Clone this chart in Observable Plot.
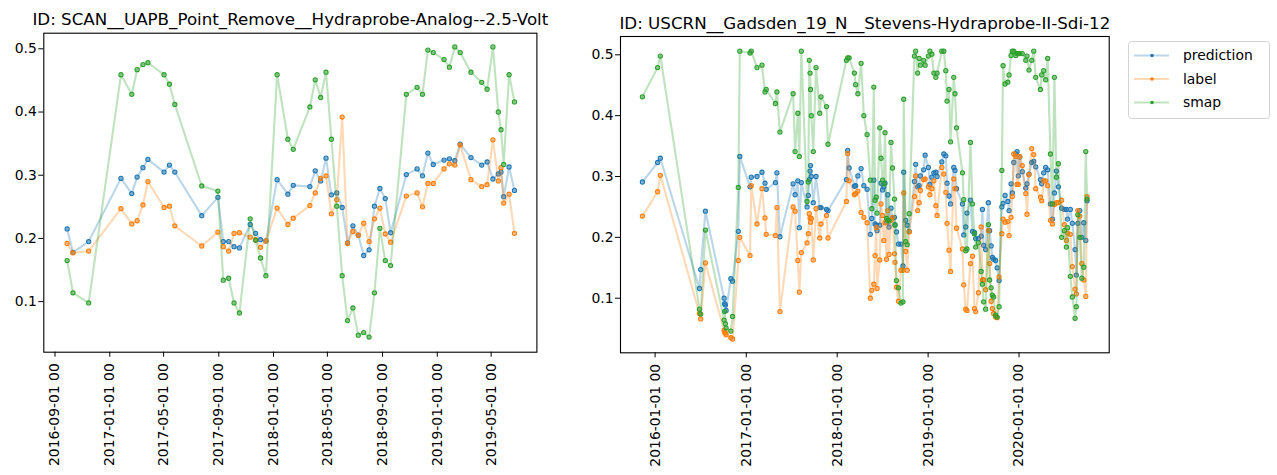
<!DOCTYPE html>
<html>
<head>
<meta charset="utf-8">
<script src="https://cdn.jsdelivr.net/npm/d3@7"></script>
<script src="https://cdn.jsdelivr.net/npm/@observablehq/plot@0.6"></script>
<style>
  html, body { margin: 0; padding: 0; background: #fff; }
  #root { position: relative; width: 1277px; height: 475px; overflow: hidden; font-family: "DejaVu Sans", sans-serif; }
  #root > * { position: absolute; }
</style>
</head>
<body>
<div id="root"></div>
<script>
// ---------- data ----------
const seriesNames = ["prediction", "label", "smap"];
const leftTitle = "ID: SCAN__UAPB_Point_Remove__Hydraprobe-Analog--2.5-Volt";
const rightTitle = "ID: USCRN__Gadsden_19_N__Stevens-Hydraprobe-II-Sdi-12";

const leftXTicks = ["2016-09-01","2017-01-01","2017-05-01","2017-09-01","2018-01-01","2018-05-01","2018-09-01","2019-01-01","2019-05-01"];
const rightXTicks = ["2016-01-01","2017-01-01","2018-01-01","2019-01-01","2020-01-01"];
const yTicks = [0.1, 0.2, 0.3, 0.4, 0.5];

const leftDates = [
  "2016-09-28","2016-10-11","2016-11-15","2017-01-26","2017-02-19","2017-03-03","2017-03-16","2017-03-27",
  "2017-05-02","2017-05-14","2017-05-26","2017-07-25","2017-08-30","2017-09-11","2017-09-23","2017-10-05",
  "2017-10-17","2017-11-10","2017-11-22","2017-12-03","2017-12-15","2018-01-09","2018-02-02","2018-02-14",
  "2018-03-23","2018-04-04","2018-04-16","2018-04-28","2018-05-10","2018-05-22","2018-06-03","2018-06-15",
  "2018-06-27","2018-07-09","2018-07-21","2018-08-02","2018-08-14","2018-08-26","2018-09-07","2018-09-19",
  "2018-10-24","2018-11-17","2018-11-29","2018-12-11","2018-12-23","2019-01-16","2019-01-28","2019-02-09",
  "2019-02-21","2019-03-17","2019-04-10","2019-04-22","2019-05-05","2019-05-17","2019-05-23","2019-05-29",
  "2019-06-10","2019-06-22"
];
const leftPrediction = [
  0.215,0.178,0.195,0.295,0.271,0.297,0.312,0.325,
  0.305,0.316,0.305,0.236,0.265,0.195,0.195,0.187,
  0.185,0.222,0.208,0.198,0.196,0.293,0.270,0.284,
  0.282,0.307,0.291,0.327,0.269,0.272,0.249,0.193,
  0.220,0.205,0.173,0.182,0.251,0.279,0.263,0.209,
  0.301,0.310,0.299,0.335,0.317,0.324,0.326,0.323,
  0.349,0.328,0.316,0.321,0.294,0.302,0.305,0.266,
  0.313,0.276
];
const leftLabel = [
  0.192,0.177,0.180,0.247,0.223,0.228,0.253,0.290,
  0.249,0.251,0.220,0.188,0.210,0.187,0.180,0.208,
  0.209,0.202,0.198,0.186,0.196,0.248,0.222,0.232,
  0.252,0.272,0.295,0.299,0.239,0.261,0.392,0.192,
  0.211,0.205,0.224,0.195,0.231,0.248,0.207,0.194,
  0.267,0.272,0.250,0.287,0.287,0.310,0.318,0.316,
  0.348,0.293,0.282,0.285,0.356,0.291,0.312,0.256,
  0.270,0.208
];
const leftSmap = [
  0.165,0.114,0.098,0.459,0.428,0.467,0.475,0.478,
  0.459,0.444,0.412,0.283,0.275,0.134,0.137,0.098,
  0.082,0.231,0.197,0.169,0.141,0.459,0.357,0.341,
  0.408,0.451,0.423,0.463,0.357,0.251,0.141,0.070,
  0.090,0.047,0.051,0.044,0.114,0.216,0.165,0.157,
  0.428,0.439,0.428,0.498,0.494,0.483,0.471,0.503,
  0.494,0.463,0.447,0.436,0.503,0.400,0.372,0.317,
  0.459,0.416
];

const rightDates = [
  "2015-11-11","2016-01-11","2016-01-22","2016-06-27","2016-07-02","2016-07-21","2016-10-04","2016-10-06",
  "2016-10-09","2016-10-12","2016-10-31","2016-11-07","2016-11-30","2016-12-06","2017-01-16","2017-01-21",
  "2017-02-13","2017-03-05","2017-03-17","2017-03-22","2017-04-28","2017-05-04","2017-05-16","2017-07-08",
  "2017-07-16","2017-07-27","2017-08-02","2017-08-10","2017-09-02","2017-09-07","2017-09-11","2017-09-14",
  "2017-09-16","2017-09-19","2017-09-27","2017-10-08","2017-10-23","2017-10-28","2017-11-19","2017-11-25",
  "2018-02-07","2018-02-12","2018-02-18","2018-03-11","2018-03-16","2018-03-25","2018-04-07","2018-04-18",
  "2018-05-01","2018-05-14","2018-05-20","2018-05-28","2018-06-02","2018-06-07","2018-06-10","2018-06-21",
  "2018-06-26","2018-07-02","2018-07-07","2018-07-12","2018-07-18","2018-07-23","2018-07-28","2018-08-05",
  "2018-08-11","2018-08-19","2018-08-21","2018-08-27","2018-09-04","2018-09-14","2018-09-22","2018-09-25",
  "2018-10-03","2018-10-09","2018-10-17","2018-11-07","2018-11-12","2018-11-20","2018-11-26","2018-12-01",
  "2018-12-14","2018-12-20","2019-01-02","2019-01-08","2019-01-16","2019-01-24","2019-02-01","2019-02-06",
  "2019-02-25","2019-03-05","2019-03-13","2019-03-18","2019-03-26","2019-04-01","2019-04-14","2019-04-19",
  "2019-04-25",
  "2019-05-19","2019-05-24","2019-06-01","2019-06-06","2019-06-20","2019-06-28","2019-07-06","2019-07-11",
  "2019-07-22","2019-08-02","2019-08-07","2019-08-12","2019-08-20","2019-08-31","2019-09-05","2019-09-11",
  "2019-09-16","2019-09-21","2019-09-29","2019-10-05","2019-10-13","2019-10-24","2019-10-29","2019-11-06",
  "2019-11-17","2019-11-22","2019-11-30","2019-12-05","2019-12-11","2019-12-19","2019-12-24","2019-12-29",
  "2020-01-04","2020-01-14","2020-01-28","2020-02-02","2020-02-10","2020-02-21","2020-02-29","2020-03-08",
  "2020-03-27","2020-04-01","2020-04-09","2020-04-17","2020-04-25","2020-05-06","2020-05-14","2020-05-22",
  "2020-05-30","2020-06-07","2020-06-20","2020-07-01","2020-07-09","2020-07-14","2020-07-25","2020-08-02",
  "2020-08-13","2020-08-18","2020-08-24","2020-09-01","2020-09-09","2020-09-17","2020-09-25","2020-09-30"
];
const rightPrediction = [
  0.291,0.323,0.330,0.116,0.147,0.243,0.100,0.091,
  0.089,0.080,0.132,0.128,0.210,0.333,0.283,0.299,
  0.300,0.307,0.289,0.279,0.290,0.306,0.201,0.288,
  0.270,0.293,0.216,0.290,0.250,0.269,0.295,0.309,
  0.318,0.300,0.257,0.300,0.249,0.249,0.246,0.244,
  0.295,0.343,0.314,0.284,0.285,0.301,0.313,0.285,
  0.279,0.205,0.231,0.294,0.222,0.220,0.211,0.220,
  0.289,0.278,0.283,0.289,0.225,0.270,0.217,0.248,
  0.232,0.233,0.221,0.209,0.189,0.189,0.153,0.307,
  0.228,0.220,0.210,0.292,0.320,0.283,0.285,0.301,
  0.311,0.335,0.315,0.287,0.299,0.306,0.307,0.300,
  0.324,0.337,0.334,0.289,0.268,0.255,0.315,0.310,
  0.280,
  0.255,0.204,0.217,0.240,0.261,0.210,0.208,0.198,
  0.198,0.202,0.246,0.187,0.180,0.257,0.211,0.186,
  0.167,0.164,0.162,0.150,0.129,0.250,0.256,0.269,
  0.259,0.244,0.288,0.273,0.323,0.337,0.341,0.301,
  0.332,0.308,0.281,0.288,0.304,0.323,0.325,0.316,
  0.295,0.288,0.306,0.315,0.311,0.255,0.230,0.273,
  0.309,0.283,0.248,0.246,0.246,0.230,0.246,0.223,
  0.180,0.138,0.223,0.244,0.200,0.224,0.195,0.260
];
const rightLabel = [
  0.235,0.275,0.302,0.075,0.066,0.158,0.047,0.044,
  0.043,0.040,0.035,0.033,0.162,0.200,0.170,0.285,
  0.222,0.280,0.232,0.205,0.203,0.249,0.078,0.250,
  0.243,0.162,0.110,0.175,0.191,0.206,0.239,0.232,
  0.225,0.231,0.163,0.247,0.199,0.222,0.236,0.199,
  0.259,0.338,0.293,0.270,0.272,0.276,0.241,0.233,
  0.224,0.100,0.113,0.123,0.170,0.216,0.116,0.163,
  0.255,0.236,0.195,0.224,0.164,0.244,0.172,0.228,
  0.233,0.173,0.159,0.118,0.095,0.146,0.146,0.273,
  0.177,0.146,0.209,0.267,0.301,0.244,0.257,0.277,
  0.295,0.296,0.283,0.270,0.280,0.293,0.252,0.236,
  0.315,0.304,0.274,0.223,0.179,0.144,0.296,0.280,
  0.215,
  0.181,0.122,0.082,0.080,0.157,0.169,0.083,0.078,
  0.109,0.217,0.130,0.130,0.114,0.211,0.157,0.095,
  0.083,0.075,0.069,0.068,0.135,0.206,0.230,0.225,
  0.226,0.203,0.233,0.267,0.337,0.333,0.287,0.287,
  0.333,0.318,0.272,0.238,0.303,0.346,0.336,0.280,
  0.266,0.260,0.293,0.293,0.285,0.228,0.222,0.254,
  0.257,0.257,0.261,0.221,0.195,0.207,0.205,0.152,
  0.115,0.107,0.244,0.235,0.157,0.130,0.103,0.267
];
const rightSmap = [
  0.431,0.479,0.498,0.082,0.074,0.212,0.064,0.078,
  0.058,0.051,0.046,0.070,0.282,0.506,0.503,0.506,
  0.479,0.483,0.439,0.443,0.420,0.439,0.373,0.436,
  0.341,0.404,0.333,0.506,0.259,0.291,0.491,0.470,
  0.443,0.400,0.341,0.479,0.404,0.431,0.415,0.353,
  0.491,0.495,0.495,0.470,0.451,0.436,0.486,0.400,
  0.369,0.294,0.247,0.447,0.261,0.266,0.240,0.380,
  0.330,0.294,0.288,0.372,0.231,0.228,0.227,0.356,
  0.314,0.263,0.220,0.129,0.117,0.092,0.094,0.427,
  0.193,0.188,0.239,0.498,0.506,0.470,0.494,0.483,
  0.491,0.483,0.498,0.506,0.501,0.470,0.463,0.470,
  0.506,0.506,0.474,0.424,0.443,0.357,0.463,0.436,
  0.380,
  0.306,0.262,0.178,0.181,0.356,0.255,0.206,0.184,
  0.191,0.144,0.123,0.094,0.082,0.221,0.130,0.117,
  0.105,0.102,0.072,0.069,0.086,0.310,0.482,0.452,
  0.455,0.467,0.499,0.506,0.506,0.499,0.502,0.502,
  0.502,0.502,0.491,0.498,0.475,0.491,0.506,0.463,
  0.443,0.467,0.474,0.459,0.494,0.337,0.255,0.463,
  0.299,0.321,0.200,0.211,0.184,0.216,0.136,0.102,
  0.067,0.086,0.237,0.200,0.133,0.151,0.341,0.263
];

const seriesColors = ["#1f77b4", "#ff7f0e", "#2ca02c"];

// ---------- helpers ----------
const parseDate = d3.utcParse("%Y-%m-%d");

function toRows(dates, valueArrays) {
  const rows = [];
  valueArrays.forEach((vals, i) => {
    dates.forEach((d, j) => rows.push({date: parseDate(d), value: vals[j], series: seriesNames[i]}));
  });
  return rows;
}

function panel({rows, xDomain, yDomain, xTicks, title, width, mL, mR, mT, mB}) {
  const marks = [];
  seriesNames.forEach((name, i) => {
    const sub = rows.filter(r => r.series === name);
    marks.push(Plot.line(sub, {x: "date", y: "value", stroke: seriesColors[i], strokeOpacity: 0.3, strokeWidth: 2.1}));
    marks.push(Plot.dot(sub, {x: "date", y: "value", r: 2.1, fill: seriesColors[i], fillOpacity: 0.45, stroke: seriesColors[i], strokeWidth: 1.1}));
  });
  marks.push(Plot.frame({stroke: "black", strokeWidth: 1.1}));
  marks.push(Plot.axisX({ticks: xTicks.map(parseDate), tickFormat: d3.utcFormat("%Y-%m-%d %H"), tickRotate: -90, tickSize: 5, tickPadding: 6, label: null}));
  marks.push(Plot.axisY({ticks: yTicks, tickFormat: d3.format(".1f"), tickSize: 5, tickPadding: 2, label: null}));
  marks.push(Plot.text([title], {text: d => d, frameAnchor: "top", dy: -8, lineAnchor: "bottom", fontSize: 16.7, fill: "black"}));
  return Plot.plot({
    width, height: 475,
    marginLeft: mL, marginRight: mR, marginTop: mT, marginBottom: mB,
    style: {fontFamily: "DejaVu Sans", fontSize: "13.9px", color: "black", background: "transparent", overflow: "visible"},
    x: {type: "utc", domain: xDomain.map(parseDate)},
    y: {domain: yDomain},
    marks
  });
}

const root = document.getElementById("root");

const left = panel({
  rows: toRows(leftDates, [leftPrediction, leftLabel, leftSmap]),
  xDomain: ["2016-08-07", "2019-08-11"], yDomain: [0.0200, 0.5247],
  xTicks: leftXTicks, title: leftTitle,
  width: 560, mL: 43.3, mR: 23.6, mT: 32.7, mB: 123.3
});
left.style.left = "0px"; left.style.top = "0px";
root.appendChild(left);

const right = panel({
  rows: toRows(rightDates, [rightPrediction, rightLabel, rightSmap]),
  xDomain: ["2015-08-15", "2020-12-28"], yDomain: [0.0103, 0.5301],
  xTicks: rightXTicks, title: rightTitle,
  width: 540, mL: 40, mR: 11.3, mT: 36, mB: 122.7
});
right.style.left = "580px"; right.style.top = "0px";
root.appendChild(right);

// ---------- legend ----------
const ns = "http://www.w3.org/2000/svg";
const leg = document.createElementNS(ns, "svg");
leg.setAttribute("width", 143); leg.setAttribute("height", 79);
leg.style.left = "1127.5px"; leg.style.top = "41px";
const box = document.createElementNS(ns, "rect");
box.setAttribute("x", 0.5); box.setAttribute("y", 0.5); box.setAttribute("width", 141); box.setAttribute("height", 77);
box.setAttribute("rx", 3); box.setAttribute("fill", "white"); box.setAttribute("stroke", "#d4d4d4");
leg.appendChild(box);
seriesNames.forEach((name, i) => {
  const y = 14.5 + i * 23.5;
  const ln = document.createElementNS(ns, "line");
  ln.setAttribute("x1", 6); ln.setAttribute("x2", 41); ln.setAttribute("y1", y); ln.setAttribute("y2", y);
  ln.setAttribute("stroke", seriesColors[i]); ln.setAttribute("stroke-opacity", 0.3); ln.setAttribute("stroke-width", 2.1);
  leg.appendChild(ln);
  const c = document.createElementNS(ns, "circle");
  c.setAttribute("cx", 24); c.setAttribute("cy", y); c.setAttribute("r", 1.8);
  c.setAttribute("fill", seriesColors[i]);
  leg.appendChild(c);
  const t = document.createElementNS(ns, "text");
  t.setAttribute("x", 55); t.setAttribute("y", y); t.setAttribute("dy", "0.35em");
  t.setAttribute("font-family", "DejaVu Sans"); t.setAttribute("font-size", "13.9px"); t.setAttribute("fill", "black");
  t.textContent = name;
  leg.appendChild(t);
});
root.appendChild(leg);
</script>
</body>
</html>
